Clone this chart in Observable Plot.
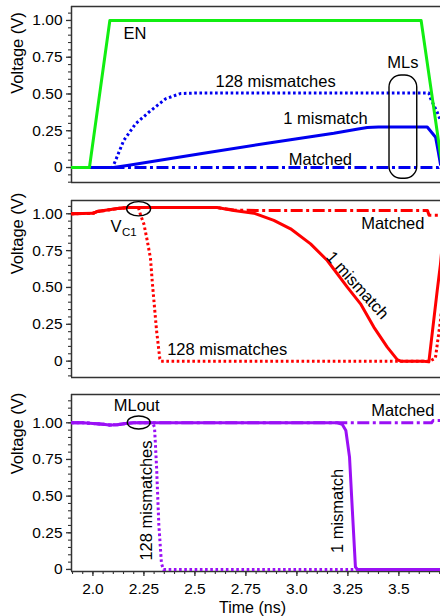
<!DOCTYPE html>
<html>
<head>
<meta charset="utf-8">
<script src="https://cdn.jsdelivr.net/npm/d3@7"></script>
<script src="https://cdn.jsdelivr.net/npm/@observablehq/plot@0.6"></script>
<style>
  html, body { margin: 0; padding: 0; background: #fff; }
  #chart { width: 440px; }
  #chart svg { display: block; }
</style>
</head>
<body>
<div id="chart"></div>
<script>
// ---------- data (time in ns, voltage in V) ----------
const xDomain = [1.895, 3.704];
const yMajor = [0, 0.25, 0.5, 0.75, 1.0];
const xMajor = [2.0, 2.25, 2.5, 2.75, 3.0, 3.25, 3.5];
const xTickLabels = ["2.0", "2.25", "2.5", "2.75", "3.0", "3.25", "3.5"];

// Panel 1: EN and match lines
const en = [[1.895,0],[1.983,0],[2.083,1.0],[3.609,1.0],[3.713,0]];
const ml128 = [[1.988,0],[2.096,0],[2.111,0.048],[2.151,0.184],[2.209,0.297],[2.274,0.376],[2.356,0.467],[2.429,0.503],[2.5,0.506],[3.647,0.506],[3.655,0.47],[3.688,0.376],[3.704,0.32]];
const ml1 = [[1.988,0],[2.101,0],[2.168,0.014],[2.527,0.093],[2.854,0.165],[3.181,0.233],[3.30,0.262],[3.345,0.272],[3.40,0.275],[3.639,0.275],[3.68,0.206],[3.694,0.1],[3.704,0.02]];
const mlMatched = [[1.988,0],[3.695,0],[3.704,0.008]];

// Panel 2: V_C1
const vc1Matched = [[1.895,1.0],[2.0,1.003],[2.02,1.015],[2.07,1.025],[2.12,1.035],[2.17,1.042],[2.609,1.042],[2.691,1.025],[2.8,1.022],[3.64,1.022],[3.648,0.99],[3.704,0.99]];
const vc1One = [[1.895,1.0],[2.0,1.003],[2.02,1.015],[2.07,1.025],[2.12,1.035],[2.17,1.042],[2.609,1.042],[2.691,1.022],[2.789,1.004],[2.887,0.955],[2.969,0.898],[3.067,0.796],[3.149,0.683],[3.247,0.502],[3.312,0.389],[3.377,0.231],[3.443,0.095],[3.492,0.01],[3.508,0],[3.622,0],[3.647,-0.005],[3.688,0.48],[3.704,0.66],[3.72,0.9]];
const vc1_128 = [[1.895,1.0],[2.0,1.003],[2.02,1.015],[2.07,1.025],[2.12,1.035],[2.17,1.042],[2.223,1.042],[2.234,0.99],[2.25,0.93],[2.266,0.82],[2.282,0.70],[2.292,0.52],[2.312,0.208],[2.328,0.016],[2.333,0],[3.65,0],[3.679,0.02],[3.704,0.277],[3.72,0.5]];

// Panel 3: MLout
const outMatched = [[1.895,1.0],[1.95,1.0],[2.0,0.995],[2.05,0.99],[2.08,0.985],[2.12,0.987],[2.16,0.995],[2.2,1.0],[3.66,1.0],[3.668,1.015],[3.704,1.015]];
const out128 = [[1.895,1.0],[1.95,1.0],[2.0,0.995],[2.05,0.99],[2.08,0.985],[2.12,0.987],[2.16,0.995],[2.2,1.0],[2.292,1.0],[2.302,0.97],[2.312,0.70],[2.323,0.31],[2.336,0.04],[2.346,0],[3.704,0]];
const outOne = [[1.895,1.0],[1.95,1.0],[2.0,0.995],[2.05,0.99],[2.08,0.985],[2.12,0.987],[2.16,0.995],[2.2,1.0],[3.198,1.0],[3.222,0.99],[3.24,0.948],[3.258,0.766],[3.272,0.40],[3.287,0.016],[3.297,0],[3.704,0]];

// Annotations (data coordinates)
const p1Labels = [
  {text: "EN", t: 2.15, v: 0.909},
  {text: "128 mismatches", t: 2.601, v: 0.585},
  {text: "MLs", t: 3.443, v: 0.716},
  {text: "1 mismatch", t: 2.933, v: 0.331},
  {text: "Matched", t: 2.96, v: 0.052}
];
const p1Box = [{t1: 3.454, t2: 3.590, v1: -0.077, v2: 0.626}];

const p2Labels = [
  {text: "Matched", t: 3.315, v: 0.932},
  {text: "128 mismatches", t: 2.364, v: 0.077}
];
const p2Rotated = [{text: "1 mismatch", t: 3.296, v: 0.514}];
const p2V = [{text: "V", t: 2.086, v: 0.909}];
const p2Sub = [{text: "C1", t: 2.142, v: 0.874}];
const p2Box = [{t1: 2.168, t2: 2.285, v1: 0.982, v2: 1.079}];

const p3Labels = [
  {text: "MLout", t: 2.102, v: 1.118},
  {text: "Matched", t: 3.364, v: 1.079}
];
const p3Rotated = [
  {text: "128 mismatches", t: 2.266, v: 0.470},
  {text: "1 mismatch", t: 3.2, v: 0.399}
];
const p3Box = [{t1: 2.171, t2: 2.283, v1: 0.954, v2: 1.043}];

// ---------- styling ----------
const FONT = "'Liberation Sans', Arial, Helvetica, sans-serif";
const frameColor = "#333";
const GREEN = "#11ee11", BLUE = "#0000f0", RED = "#ff0000", PURPLE = "#9a10f5";
const DOT = "2.6,2.6", DASHDOT = "12,3.5,3,3.5";
const fmtY = d => d === 0 ? "0" : d.toFixed(2);
const fmtX = d => xTickLabels[xMajor.findIndex(v => Math.abs(v - d) < 1e-9)];
const range = (a, b, s) => d3.range(Math.round((b - a) / s) + 1).map(i => +(a + i * s).toFixed(3));

function frameMarks(yDom) {
  return [
    Plot.ruleY([yDom[1]], {stroke: frameColor, strokeWidth: 1.5}),
    Plot.ruleY([yDom[0]], {stroke: frameColor, strokeWidth: 1.5}),
    Plot.ruleX([xDomain[0]], {stroke: frameColor, strokeWidth: 1.5})
  ];
}
function yAxisMarks(minor, labelDy) {
  return [
    Plot.axisY({ticks: minor, tickSize: 3, tickFormat: () => "", stroke: frameColor, strokeWidth: 1.1, label: null}),
    Plot.axisY({ticks: yMajor, tickSize: 5, tickPadding: 4, tickFormat: fmtY, stroke: frameColor, strokeWidth: 1.3, fill: "black", fontSize: 15.5, label: null}),
    Plot.text(["Voltage (V)"], {frameAnchor: "left", text: d => d, rotate: -90, dx: -54, dy: labelDy, fontSize: 16.5, fill: "black"})
  ];
}
const lineOpts = (stroke, dash, width = 3) => ({
  x: d => d[0], y: d => d[1], stroke, strokeWidth: width, clip: true,
  strokeDasharray: dash, strokeLinecap: dash ? "butt" : "round", strokeLinejoin: "round"
});
const labelOpts = {x: "t", y: "v", text: "text", textAnchor: "start", lineAnchor: "middle", fontSize: 16.5, fill: "black"};
const boxOpts = (r1, r2) => ({x1: "t1", x2: "t2", y1: "v1", y2: "v2", fill: "none", stroke: "black", strokeWidth: 1.4, rx: r1, ry: r2});

const common = {
  width: 440, marginLeft: 71, marginRight: 0,
  style: {fontFamily: FONT, fontSize: "15.5px", color: "black", background: "white"}
};

// ---------- Panel 1 ----------
const y1 = [-0.102, 1.095];
const plot1 = Plot.plot({
  ...common, height: 190, marginTop: 6, marginBottom: 8,
  x: {domain: xDomain, axis: null},
  y: {domain: y1},
  marks: [
    ...frameMarks(y1),
    ...yAxisMarks(range(-0.1, 1.05, 0.05), -0.7),
    Plot.line(mlMatched, lineOpts(BLUE, DASHDOT)),
    Plot.line(ml128, lineOpts(BLUE, DOT)),
    Plot.line(ml1, lineOpts(BLUE, null)),
    Plot.line(en, lineOpts(GREEN, null)),
    Plot.rect(p1Box, boxOpts(12, 12)),
    Plot.text(p1Labels, labelOpts)
  ]
});

// ---------- Panel 2 ----------
const y2 = [-0.111, 1.090];
const plot2 = Plot.plot({
  ...common, height: 196, marginTop: 10, marginBottom: 9,
  x: {domain: xDomain, axis: null},
  y: {domain: y2},
  marks: [
    ...frameMarks(y2),
    ...yAxisMarks(range(-0.1, 1.05, 0.05), -14.7),
    Plot.line(vc1Matched, lineOpts(RED, DASHDOT)),
    Plot.line(vc1_128, lineOpts(RED, DOT)),
    Plot.line(vc1One, lineOpts(RED, null)),
    Plot.rect(p2Box, boxOpts(12, 7)),
    Plot.text(p2Labels, labelOpts),
    Plot.text(p2Rotated, {...labelOpts, textAnchor: "middle", rotate: 48}),
    Plot.text(p2V, labelOpts),
    Plot.text(p2Sub, {...labelOpts, fontSize: 11.5})
  ]
});

// ---------- Panel 3 ----------
const y3 = [-0.014, 1.193];
const plot3 = Plot.plot({
  ...common, height: 230, marginTop: 8, marginBottom: 45,
  x: {domain: xDomain},
  y: {domain: y3},
  marks: [
    ...frameMarks(y3),
    ...yAxisMarks(range(0, 1.15, 0.05), -8.7),
    Plot.axisX({ticks: range(1.9, 3.7, 0.05), tickSize: 3, tickFormat: () => "", stroke: frameColor, strokeWidth: 1.1, label: null}),
    Plot.axisX({ticks: xMajor, tickSize: 5, tickPadding: 6, tickFormat: fmtX, stroke: frameColor, strokeWidth: 1.3, fill: "black", fontSize: 15.5, label: null}),
    Plot.text(["Time (ns)"], {frameAnchor: "bottom", text: d => d, dx: -3.5, dy: 41, fontSize: 16, fill: "black"}),
    Plot.line(outMatched, lineOpts(PURPLE, DASHDOT)),
    Plot.line(out128, lineOpts(PURPLE, DOT)),
    Plot.line(outOne, lineOpts(PURPLE, null)),
    Plot.rect(p3Box, boxOpts(12, 7)),
    Plot.text(p3Labels, labelOpts),
    Plot.text(p3Rotated, {...labelOpts, textAnchor: "middle", rotate: -90})
  ]
});

const root = document.getElementById("chart");
root.append(plot1, plot2, plot3);
</script>
</body>
</html>
